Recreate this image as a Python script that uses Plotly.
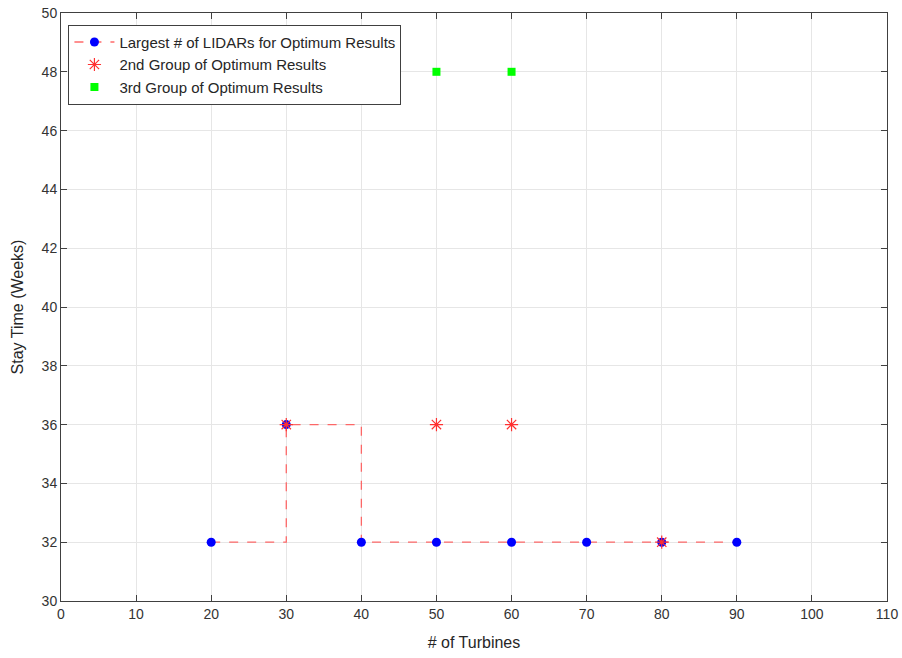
import plotly.graph_objects as go

turbines = [20, 30, 40, 50, 60, 70, 80, 90]
stay_largest = [32, 36, 32, 32, 32, 32, 32, 32]
x2 = [30, 50, 60, 80]
stay2 = [36, 36, 36, 32]
x3 = [50, 60]
stay3 = [48, 48]
xticks = list(range(0, 111, 10))
yticks = list(range(30, 51, 2))

fig = go.Figure()
fig.add_trace(go.Scatter(
    x=turbines, y=stay_largest, mode="lines+markers", line_shape="hv",
    name="Largest # of LIDARs for Optimum Results",
    line=dict(color="rgba(255,80,80,0.85)", width=1.3, dash="dash"),
    marker=dict(color="blue", size=9, symbol="circle")))
fig.add_trace(go.Scatter(
    x=x2, y=stay2, mode="markers", name="2nd Group of Optimum Results",
    marker=dict(color="#ff3030", size=11, symbol="asterisk",
                line=dict(color="#ff3030", width=1.2))))
fig.add_trace(go.Scatter(
    x=x3, y=stay3, mode="markers", name="3rd Group of Optimum Results",
    marker=dict(color="#00ff00", size=8, symbol="square")))

axis_common = dict(showgrid=True, gridcolor="#e6e6e6", gridwidth=1,
                   showline=True, linecolor="#404040", linewidth=1,
                   mirror="ticks", ticks="inside", ticklen=6, tickcolor="#404040",
                   zeroline=False, automargin=False,
                   tickfont=dict(size=14, color="#333333"))
fig.update_xaxes(range=[0, 110], tickvals=xticks,
                 title=dict(text="# of Turbines", font=dict(size=16, color="#262626"), standoff=16),
                 **axis_common)
fig.update_yaxes(range=[30, 50], tickvals=yticks,
                 title=dict(text="Stay Time (Weeks)", font=dict(size=16, color="#262626"), standoff=14),
                 **axis_common)

fig.update_layout(
    width=902, height=658,
    margin=dict(l=61, r=15, t=13, b=57),
    paper_bgcolor="white", plot_bgcolor="white",
    font=dict(family="Liberation Sans, Arial, sans-serif", color="#262626"),
    legend=dict(x=0.009, y=0.98, xanchor="left", yanchor="top",
                bgcolor="white", bordercolor="#404040", borderwidth=1,
                font=dict(size=15, color="#262626"), tracegroupgap=0,
                itemwidth=40),
    showlegend=True,
)
fig.write_html("out.html")
